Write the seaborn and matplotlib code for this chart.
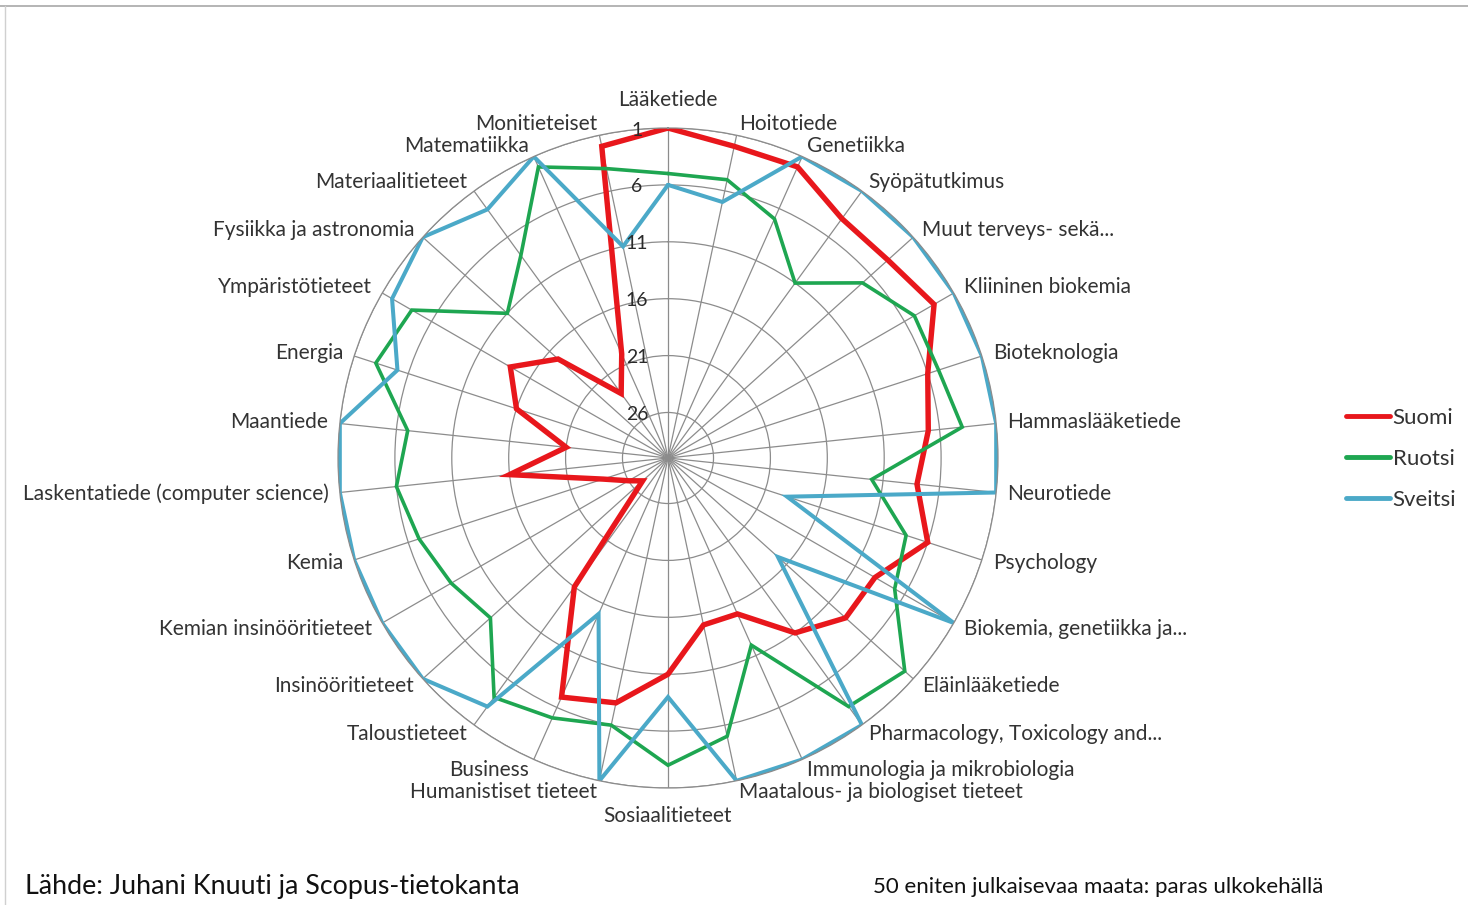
import numpy as np
import matplotlib
matplotlib.use("Agg")
import matplotlib.pyplot as plt
import seaborn as sns
from matplotlib import transforms
from matplotlib.lines import Line2D

# ---------------- data ----------------
categories = [
    "Lääketiede", "Hoitotiede", "Genetiikka", "Syöpätutkimus",
    "Muut terveys- sekä...", "Kliininen biokemia", "Bioteknologia",
    "Hammaslääketiede", "Neurotiede", "Psychology",
    "Biokemia, genetiikka ja...", "Eläinlääketiede",
    "Pharmacology, Toxicology and...", "Immunologia ja mikrobiologia",
    "Maatalous- ja biologiset tieteet", "Sosiaalitieteet",
    "Humanistiset tieteet", "Business", "Taloustieteet",
    "Insinööritieteet", "Kemian insinööritieteet", "Kemia",
    "Laskentatiede (computer science)", "Maantiede", "Energia",
    "Ympäristötieteet", "Fysiikka ja astronomia", "Materiaalitieteet",
    "Matematiikka", "Monitieteiset",
]
suomi = [1, 2, 2, 4, 4, 3, 6, 7, 8, 6, 9, 9, 11, 15, 15, 11, 8, 7, 16, 27,
         26, 24, 16, 21, 16, 14, 17, 23, 20, 2]
ruotsi = [5, 5, 7, 11, 7, 5, 5, 4, 12, 8, 7, 2, 3, 12, 5, 3, 6, 5, 4, 9,
          8, 7, 6, 7, 3, 4, 11, 8, 2, 4]
sveitsi = [6, 7, 1, 1, 1, 1, 1, 1, 1, 19, 1, 17, 1, 1, 1, 9, 1, 15, 3, 1,
           1, 1, 1, 1, 5, 2, 1, 3, 1, 11]
series_names = ["Suomi", "Ruotsi", "Sveitsi"]
tick_values = [1, 6, 11, 16, 21, 26]
source_text = "Lähde: Juhani Knuuti ja Scopus-tietokanta"
note_text = "50 eniten julkaisevaa maata: paras ulkokehällä"

colors = {"Suomi": "#E8171C", "Ruotsi": "#1EA651", "Sveitsi": "#4BA9C8"}
widths = {"Suomi": 3.9, "Ruotsi": 2.6, "Sveitsi": 2.9}

# ---------------- figure ----------------
sns.set_theme(style="white")
plt.rcParams["font.family"] = ["Lato", "DejaVu Sans"]

W, H = 1468, 905
fig = plt.figure(figsize=(W / 100, H / 100), dpi=100)
fig.patch.set_facecolor("white")

cx, cy, R = 668, 458, 330
ax = fig.add_axes([(cx - R) / W, (H - cy - R) / H, 2 * R / W, 2 * R / H],
                  projection="polar")
ax.set_theta_zero_location("N")
ax.set_theta_direction(-1)

n = len(categories)
angles = np.arange(n) * 2 * np.pi / n
ang_closed = np.append(angles, angles[0])

for name, vals in zip(series_names, [suomi, ruotsi, sveitsi]):
    v = np.append(vals, vals[0])
    sns.lineplot(x=ang_closed, y=v, sort=False, estimator=None, ax=ax,
                 color=colors[name], linewidth=widths[name], legend=False,
                 solid_joinstyle="miter")

ax.set_ylim(30, 1)
ax.set_yticks(tick_values)
ax.set_yticklabels([])
ax.set_xticks(angles)
ax.set_xticklabels([])
ax.set_xlabel("")
ax.set_ylabel("")
ax.grid(True, color="#8c8c8c", linewidth=0.9)
ax.spines["polar"].set_color("#8c8c8c")
ax.spines["polar"].set_linewidth(0.9)
ax.set_facecolor("white")

# radial tick labels along the top spoke, left of it
off = transforms.offset_copy(ax.transData, fig=fig, x=-31, y=-2, units="dots")
for t in tick_values:
    ax.text(0, t, str(t), transform=off, ha="center", va="center",
            fontsize=14, color="#2a2a2a", zorder=5)

# category labels
lab_fs = 15
for a, lab in zip(angles, categories):
    deg = np.degrees(a)
    if abs(deg) < 1e-6:
        ax.text(a, -0.6, lab, ha="center", va="bottom", fontsize=lab_fs,
                color="#333333")
    elif abs(deg - 180) < 1e-6:
        ax.text(a, -0.6, lab, ha="center", va="top", fontsize=lab_fs,
                color="#333333")
    elif deg < 180:
        ax.text(a, 0.0, lab, ha="left", va="center", fontsize=lab_fs,
                color="#333333")
    else:
        ax.text(a, 0.0, lab, ha="right", va="center", fontsize=lab_fs,
                color="#333333")

# legend
handles = [Line2D([0], [0], color=colors[s], linewidth=3.5) for s in series_names]
fig.legend(handles, series_names, loc="center left",
           bbox_to_anchor=(1326 / W, 1 - 459 / H), frameon=False,
           fontsize=16, handlelength=2.0, handletextpad=0.1,
           labelspacing=0.95, labelcolor="#333333")

# footer texts
fig.text(25 / W, 1 - 886 / H, source_text, fontsize=19.3, va="center",
         ha="left", color="#111111")
fig.text(873 / W, 1 - 887 / H, note_text, fontsize=16, va="center",
         ha="left", color="#111111")

# screenshot frame lines
fig.add_artist(Line2D([0, 1], [1 - 6 / H, 1 - 6 / H], color="#a8a8a8",
                      linewidth=1.2, transform=fig.transFigure))
fig.add_artist(Line2D([5 / W, 5 / W], [0, 1 - 6 / H], color="#d0d0d0",
                      linewidth=1.0, transform=fig.transFigure))

fig.savefig("out.png", dpi=100, facecolor="white")
